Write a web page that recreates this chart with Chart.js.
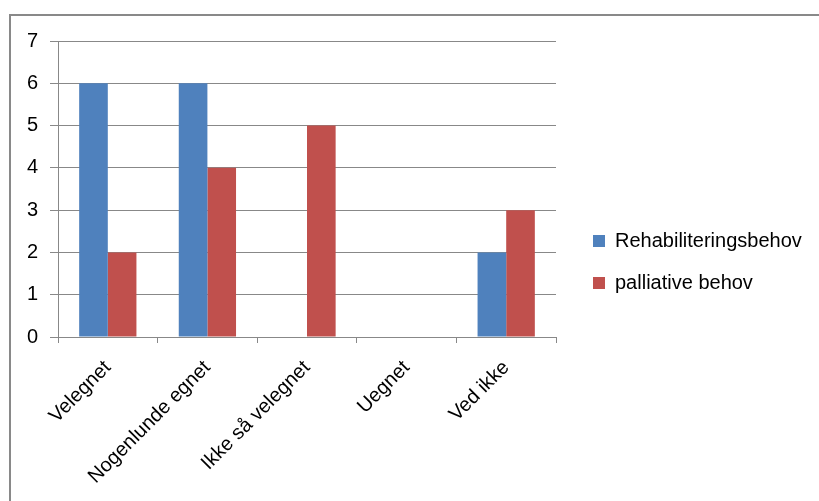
<!DOCTYPE html>
<html>
<head>
<meta charset="utf-8">
<script src="https://cdn.jsdelivr.net/npm/chart.js@4"></script>
<style>
    html, body { margin: 0; padding: 0; background: #fff; overflow: hidden; }
    #wrap { position: relative; width: 819px; height: 501px; }
    #ramme { position: absolute; left: 9px; top: 14px; width: 900px; height: 600px; border: 2px solid #898989; box-sizing: border-box; }
    #graf { position: absolute; left: 0; top: 0; }
</style>
</head>
<body>
<div id="wrap">
    <div id="ramme"></div>
    <canvas id="graf" width="819" height="501"></canvas>
</div>
<script>
    // kategorier og værdier
    const kategorier = ['Velegnet', 'Nogenlunde egnet', 'Ikke så velegnet', 'Uegnet', 'Ved ikke'];
    const rehabilitering = [6, 6, 0, 0, 2];
    const palliativ = [2, 4, 5, 0, 3];
    const serieNavne = ['Rehabiliteringsbehov', 'palliative behov'];
    const yMin = 0;
    const yMax = 7;

    const skrift = {family: '"Liberation Sans", Arial, sans-serif', size: 20};
    const gitterFarve = '#888888';

    // legenden skal ligge til højre for plotområdet, med luft imellem
    const legendePlacering = {
        id: 'legendePlacering',
        beforeUpdate(chart) {
            const lg = chart.legend;
            if (lg && !lg._tilpasset) {
                const fit = lg.fit;
                lg.fit = function () {
                    fit.call(this);
                    this.width = 263;
                };
                lg._tilpasset = true;
            }
        },
        afterLayout(chart) {
            const lg = chart.legend;
            const p = lg.options.labels.padding;
            lg.left = 593 - p;
            lg.right = lg.left + lg.width;
            lg.top = 231 - p;
            lg.bottom = lg.top + lg.height;
        }
    };

    const ctx = document.getElementById('graf').getContext('2d');
    new Chart(ctx, {
        type: 'bar',
        data: {
            labels: kategorier,
            datasets: [
                {
                    label: serieNavne[0],
                    data: rehabilitering,
                    backgroundColor: '#4F81BD',
                    borderWidth: 0
                },
                {
                    label: serieNavne[1],
                    data: palliativ,
                    backgroundColor: '#C0504D',
                    borderWidth: 0
                }
            ]
        },
        options: {
            responsive: false,
            animation: false,
            devicePixelRatio: 1,
            layout: {
                padding: {left: 10, top: 41, right: 0, bottom: 0}
            },
            datasets: {
                bar: {
                    categoryPercentage: 0.575,
                    barPercentage: 1
                }
            },
            scales: {
                x: {
                    grid: {
                        display: true,
                        drawOnChartArea: false,
                        drawTicks: true,
                        tickLength: 6,
                        color: gitterFarve,
                        offset: true
                    },
                    border: {display: true, color: gitterFarve},
                    ticks: {
                        color: '#000',
                        font: skrift,
                        maxRotation: 45,
                        minRotation: 45,
                        padding: 13,
                        autoSkip: false
                    },
                    afterFit(scale) {
                        scale.height = 164;
                    }
                },
                y: {
                    min: yMin,
                    max: yMax,
                    grid: {
                        color: gitterFarve,
                        drawTicks: true,
                        tickLength: 8
                    },
                    border: {display: true, color: gitterFarve},
                    ticks: {
                        stepSize: 1,
                        color: '#000',
                        font: skrift,
                        padding: 12
                    },
                    afterFit(scale) {
                        scale.width = 48;
                    }
                }
            },
            plugins: {
                legend: {
                    position: 'right',
                    align: 'start',
                    labels: {
                        boxWidth: 12,
                        boxHeight: 12,
                        color: '#000',
                        font: skrift,
                        padding: 22
                    }
                },
                tooltip: {enabled: false}
            }
        },
        plugins: [legendePlacering]
    });
</script>
</body>
</html>
